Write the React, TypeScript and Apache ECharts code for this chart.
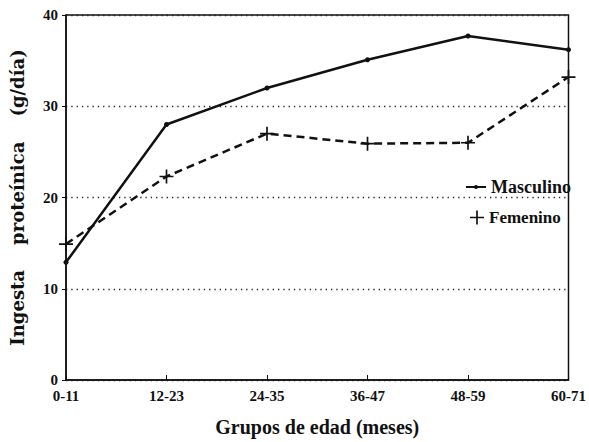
import React, { useEffect, useRef } from "react";
import * as echarts from "echarts";

const categories = ["0-11", "12-23", "24-35", "36-47", "48-59", "60-71"];
const masculino = [12.9, 28.0, 32.0, 35.1, 37.7, 36.2];
const femenino = [14.9, 22.3, 27.0, 25.9, 26.0, 33.2];
const yTicks = { min: 0, max: 40, interval: 10 };

const SERIF = "'Liberation Serif', 'Times New Roman', serif";
const PLUS = "path://M0,4.4L10,4.4L10,5.6L0,5.6Z M4.4,0L5.6,0L5.6,10L4.4,10Z";

export default function App() {
  const ref = useRef<HTMLDivElement>(null);
  useEffect(() => {
    if (!ref.current) return;
    const chart = echarts.init(ref.current, null, { renderer: "svg" });
    chart.setOption({
      animation: false,
      backgroundColor: "#ffffff",
      grid: {
        left: 62,
        right: 20,
        top: 15,
        bottom: 55,
        show: true,
        borderColor: "#111",
        borderWidth: 1.5,
      },
      legend: [
        {
          data: ["Masculino"],
          left: 460,
          top: 173,
          orient: "vertical",
          itemWidth: 20,
          itemHeight: 5,
          textStyle: { fontFamily: SERIF, fontWeight: "bold", fontSize: 18, color: "#111" },
        },
        {
          data: [{ name: "Femenino", icon: PLUS }],
          left: 465,
          top: 204,
          orient: "vertical",
          itemWidth: 14,
          itemHeight: 14,
          textStyle: { fontFamily: SERIF, fontWeight: "bold", fontSize: 17, color: "#111" },
        },
      ],
      xAxis: {
        type: "category",
        data: categories,
        boundaryGap: false,
        name: "Grupos de edad (meses)",
        nameLocation: "middle",
        nameGap: 37,
        nameTextStyle: { fontFamily: SERIF, fontWeight: "bold", fontSize: 20, color: "#111" },
        axisLine: { lineStyle: { color: "#111", width: 1.5 } },
        axisTick: { inside: true, length: 5, lineStyle: { color: "#111", width: 1 } },
        axisLabel: {
          margin: 8,
          fontFamily: SERIF,
          fontWeight: "bold",
          fontSize: 15,
          color: "#111",
        },
        splitLine: { show: false },
      },
      yAxis: {
        type: "value",
        min: yTicks.min,
        max: yTicks.max,
        interval: yTicks.interval,
        name: "Ingesta    proteínica    (g/día)",
        nameLocation: "middle",
        nameRotate: 90,
        nameGap: 40,
        nameTextStyle: {
          fontFamily: "'DejaVu Serif', serif",
          fontWeight: "bold",
          fontSize: 18,
          color: "#111",
        },
        axisLine: { show: true, lineStyle: { color: "#111", width: 1.5 } },
        axisTick: { show: true, length: 4, lineStyle: { color: "#111", width: 1 } },
        axisLabel: {
          margin: 8,
          fontFamily: SERIF,
          fontWeight: "bold",
          fontSize: 15,
          color: "#111",
        },
        splitLine: {
          show: true,
          lineStyle: { color: "#222", width: 1.3, type: [1.3, 4] },
        },
      },
      series: [
        {
          name: "Masculino",
          type: "line",
          data: masculino,
          symbol: "circle",
          symbolSize: 5,
          itemStyle: { color: "#111" },
          lineStyle: { color: "#111", width: 2.5 },
        },
        {
          name: "Femenino",
          type: "line",
          data: femenino,
          symbol: PLUS,
          symbolSize: 14,
          itemStyle: { color: "#111" },
          lineStyle: { color: "#111", width: 2.5, type: [8, 5] },
        },
      ],
    });
    return () => chart.dispose();
  }, []);
  return (
    <div
      ref={ref}
      style={{ position: "absolute", left: 0, top: 0, width: 589, height: 442 }}
    />
  );
}
